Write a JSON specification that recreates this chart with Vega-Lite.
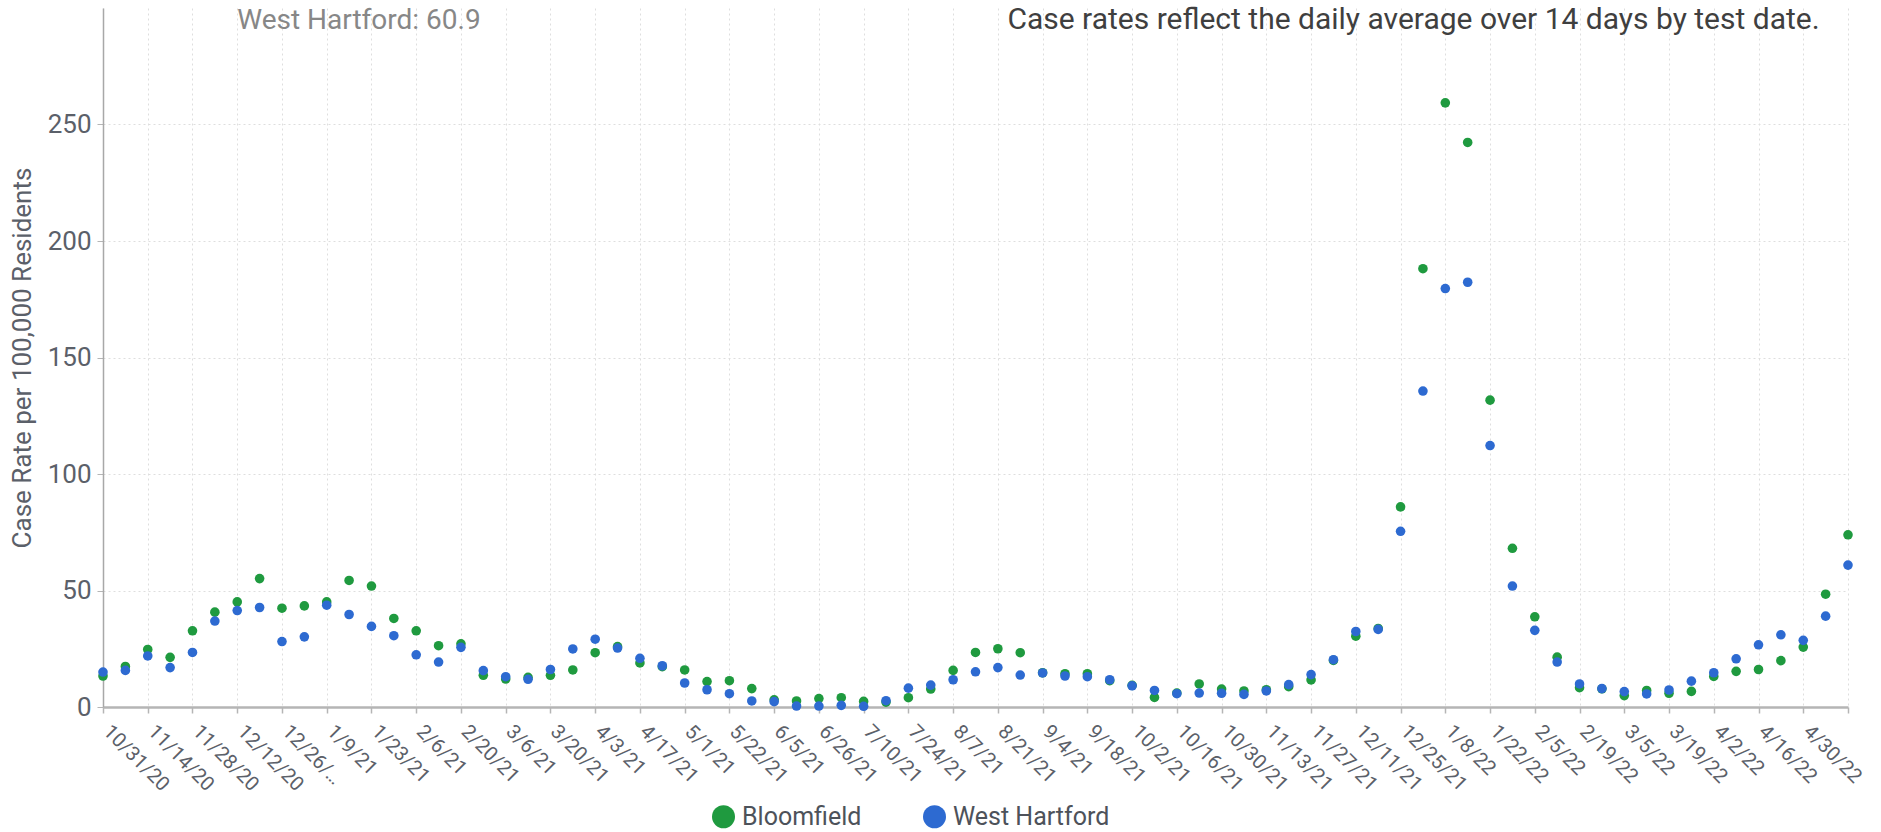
{
  "$schema": "https://vega.github.io/schema/vega-lite/v6.json",
  "autosize": {"type": "none"},
  "padding": {"left": 103, "top": 8, "right": 33, "bottom": 125},
  "width": 1745,
  "height": 699,
  "background": "white",
  "config": {
    "font": "Roboto",
    "view": {"stroke": null},
    "axis": {"labelFont": "Roboto", "titleFont": "Roboto"}
  },
  "datasets": {
    "rates": [
      {"date": "10/31/20", "Bloomfield": 13.3, "West Hartford": 15.0},
      {"date": "11/7/20", "Bloomfield": 17.4, "West Hartford": 15.7},
      {"date": "11/14/20", "Bloomfield": 24.7, "West Hartford": 21.9},
      {"date": "11/21/20", "Bloomfield": 21.3, "West Hartford": 16.9},
      {"date": "11/28/20", "Bloomfield": 32.7, "West Hartford": 23.4},
      {"date": "12/5/20", "Bloomfield": 40.7, "West Hartford": 36.9},
      {"date": "12/12/20", "Bloomfield": 45.1, "West Hartford": 41.4},
      {"date": "12/19/20", "Bloomfield": 55.1, "West Hartford": 42.7},
      {"date": "12/26/20", "Bloomfield": 42.4, "West Hartford": 28.1},
      {"date": "1/2/21", "Bloomfield": 43.4, "West Hartford": 30.1},
      {"date": "1/9/21", "Bloomfield": 45.1, "West Hartford": 43.7},
      {"date": "1/16/21", "Bloomfield": 54.3, "West Hartford": 39.7},
      {"date": "1/23/21", "Bloomfield": 51.9, "West Hartford": 34.6},
      {"date": "1/30/21", "Bloomfield": 38.0, "West Hartford": 30.6},
      {"date": "2/6/21", "Bloomfield": 32.7, "West Hartford": 22.4},
      {"date": "2/13/21", "Bloomfield": 26.3, "West Hartford": 19.3},
      {"date": "2/20/21", "Bloomfield": 27.1, "West Hartford": 25.6},
      {"date": "2/27/21", "Bloomfield": 13.6, "West Hartford": 15.6},
      {"date": "3/6/21", "Bloomfield": 12.0, "West Hartford": 13.0},
      {"date": "3/13/21", "Bloomfield": 12.7, "West Hartford": 11.9},
      {"date": "3/20/21", "Bloomfield": 13.6, "West Hartford": 16.1},
      {"date": "3/27/21", "Bloomfield": 15.9, "West Hartford": 24.9},
      {"date": "4/3/21", "Bloomfield": 23.3, "West Hartford": 29.1},
      {"date": "4/10/21", "Bloomfield": 25.9, "West Hartford": 25.3},
      {"date": "4/17/21", "Bloomfield": 18.9, "West Hartford": 20.9},
      {"date": "4/24/21", "Bloomfield": 17.3, "West Hartford": 17.7},
      {"date": "5/1/21", "Bloomfield": 15.9, "West Hartford": 10.3},
      {"date": "5/8/21", "Bloomfield": 10.9, "West Hartford": 7.4},
      {"date": "5/22/21", "Bloomfield": 11.3, "West Hartford": 5.7},
      {"date": "5/29/21", "Bloomfield": 7.9, "West Hartford": 2.6},
      {"date": "6/5/21", "Bloomfield": 3.1, "West Hartford": 2.3},
      {"date": "6/12/21", "Bloomfield": 2.6, "West Hartford": 0.4},
      {"date": "6/26/21", "Bloomfield": 3.6, "West Hartford": 0.4},
      {"date": "7/3/21", "Bloomfield": 4.0, "West Hartford": 0.7},
      {"date": "7/10/21", "Bloomfield": 2.4, "West Hartford": 0.3},
      {"date": "7/17/21", "Bloomfield": 2.1, "West Hartford": 2.7},
      {"date": "7/24/21", "Bloomfield": 4.0, "West Hartford": 8.1},
      {"date": "7/31/21", "Bloomfield": 7.7, "West Hartford": 9.4},
      {"date": "8/7/21", "Bloomfield": 15.7, "West Hartford": 11.7},
      {"date": "8/14/21", "Bloomfield": 23.4, "West Hartford": 15.1},
      {"date": "8/21/21", "Bloomfield": 25.0, "West Hartford": 16.9},
      {"date": "8/28/21", "Bloomfield": 23.3, "West Hartford": 13.7},
      {"date": "9/4/21", "Bloomfield": 14.7, "West Hartford": 14.6},
      {"date": "9/11/21", "Bloomfield": 14.3, "West Hartford": 13.3},
      {"date": "9/18/21", "Bloomfield": 14.3, "West Hartford": 13.0},
      {"date": "9/25/21", "Bloomfield": 11.3, "West Hartford": 11.7},
      {"date": "10/2/21", "Bloomfield": 9.3, "West Hartford": 9.1},
      {"date": "10/9/21", "Bloomfield": 4.1, "West Hartford": 7.1},
      {"date": "10/16/21", "Bloomfield": 6.0, "West Hartford": 5.7},
      {"date": "10/23/21", "Bloomfield": 9.9, "West Hartford": 6.0},
      {"date": "10/30/21", "Bloomfield": 7.7, "West Hartford": 5.9},
      {"date": "11/6/21", "Bloomfield": 6.9, "West Hartford": 5.4},
      {"date": "11/13/21", "Bloomfield": 7.4, "West Hartford": 6.9},
      {"date": "11/20/21", "Bloomfield": 8.7, "West Hartford": 9.6},
      {"date": "11/27/21", "Bloomfield": 11.6, "West Hartford": 13.9},
      {"date": "12/4/21", "Bloomfield": 20.0, "West Hartford": 20.3},
      {"date": "12/11/21", "Bloomfield": 30.4, "West Hartford": 32.4},
      {"date": "12/18/21", "Bloomfield": 33.7, "West Hartford": 33.3},
      {"date": "12/25/21", "Bloomfield": 85.9, "West Hartford": 75.4},
      {"date": "1/1/22", "Bloomfield": 188.1, "West Hartford": 135.6},
      {"date": "1/8/22", "Bloomfield": 259.3, "West Hartford": 179.6},
      {"date": "1/15/22", "Bloomfield": 242.3, "West Hartford": 182.3},
      {"date": "1/22/22", "Bloomfield": 131.7, "West Hartford": 112.2},
      {"date": "1/29/22", "Bloomfield": 68.1, "West Hartford": 51.9},
      {"date": "2/5/22", "Bloomfield": 38.7, "West Hartford": 32.9},
      {"date": "2/12/22", "Bloomfield": 21.4, "West Hartford": 19.3},
      {"date": "2/19/22", "Bloomfield": 8.3, "West Hartford": 9.9},
      {"date": "2/26/22", "Bloomfield": 7.8, "West Hartford": 7.9},
      {"date": "3/5/22", "Bloomfield": 4.9, "West Hartford": 6.6},
      {"date": "3/12/22", "Bloomfield": 7.1, "West Hartford": 5.6},
      {"date": "3/19/22", "Bloomfield": 5.9, "West Hartford": 7.3},
      {"date": "3/26/22", "Bloomfield": 6.7, "West Hartford": 11.1},
      {"date": "4/2/22", "Bloomfield": 13.1, "West Hartford": 14.7},
      {"date": "4/9/22", "Bloomfield": 15.3, "West Hartford": 20.7},
      {"date": "4/16/22", "Bloomfield": 16.1, "West Hartford": 26.7},
      {"date": "4/23/22", "Bloomfield": 19.9, "West Hartford": 31.0},
      {"date": "4/30/22", "Bloomfield": 25.7, "West Hartford": 28.6},
      {"date": "5/7/22", "Bloomfield": 48.4, "West Hartford": 39.0},
      {"date": "5/14/22", "Bloomfield": 73.9, "West Hartford": 60.9}
    ]
  },
  "layer": [
    {
      "data": {"name": "rates"},
      "transform": [{"fold": ["Bloomfield", "West Hartford"], "as": ["town", "rate"]}],
      "mark": {"type": "point", "filled": true, "shape": "circle", "size": 92, "opacity": 1},
      "encoding": {
        "x": {
          "field": "date",
          "type": "nominal",
          "sort": null,
          "scale": {"type": "point", "padding": 0},
          "axis": {
            "title": null,
            "values": ["10/31/20", "11/14/20", "11/28/20", "12/12/20", "12/26/20", "1/9/21", "1/23/21", "2/6/21", "2/20/21", "3/6/21", "3/20/21", "4/3/21", "4/17/21", "5/1/21", "5/22/21", "6/5/21", "6/26/21", "7/10/21", "7/24/21", "8/7/21", "8/21/21", "9/4/21", "9/18/21", "10/2/21", "10/16/21", "10/30/21", "11/13/21", "11/27/21", "12/11/21", "12/25/21", "1/8/22", "1/22/22", "2/5/22", "2/19/22", "3/5/22", "3/19/22", "4/2/22", "4/16/22", "4/30/22", "5/14/22"],
            "labelExpr": "datum.value == '12/26/20' ? '12/26/…' : (datum.value == '5/14/22' ? '' : datum.value)",
            "labelAngle": 45,
            "labelAlign": "left",
            "labelBaseline": "top",
            "labelFontSize": 20,
            "labelColor": "#5b6069",
            "labelPadding": 8,
            "labelOffset": 10,
            "labelOverlap": false,
            "labelBound": false,
            "tickSize": 6,
            "tickColor": "#b5b5b5",
            "tickWidth": 1.5,
            "domainColor": "#b5b5b5",
            "domainWidth": 2.5,
            "grid": true,
            "gridColor": "#dedede",
            "gridDash": [2, 3],
            "gridWidth": 1
          }
        },
        "y": {
          "field": "rate",
          "type": "quantitative",
          "scale": {"domain": [0, 300], "nice": false},
          "axis": {
            "title": "Case Rate per 100,000 Residents",
            "titleFontSize": 26,
            "titleFontWeight": "normal",
            "titleColor": "#5b6069",
            "titlePadding": 12,
            "values": [0, 50, 100, 150, 200, 250],
            "labelFontSize": 26,
            "labelColor": "#5b6069",
            "labelPadding": 6,
            "tickSize": 6,
            "tickColor": "#b5b5b5",
            "domainColor": "#a8a8a8",
            "domainWidth": 1.5,
            "grid": true,
            "gridColor": "#dedede",
            "gridDash": [2, 3],
            "gridWidth": 1
          }
        },
        "color": {
          "field": "town",
          "type": "nominal",
          "scale": {"domain": ["Bloomfield", "West Hartford"], "range": ["#1f9a3f", "#2d6ad1"]},
          "legend": {
            "title": null,
            "orient": "none",
            "direction": "horizontal",
            "legendX": 608,
            "legendY": 796,
            "padding": 0,
            "symbolType": "circle",
            "symbolSize": 529,
            "symbolStrokeWidth": 0,
            "symbolOpacity": 1,
            "labelFontSize": 25,
            "labelColor": "#4d525a",
            "labelOffset": 6,
            "columnPadding": 60,
            "labelLimit": 300
          }
        }
      }
    },
    {
      "data": {"values": [{}]},
      "mark": {"type": "text", "align": "left", "baseline": "alphabetic", "fontSize": 28, "color": "#878787"},
      "encoding": {
        "x": {"datum": "12/12/20"},
        "y": {"datum": 291.2},
        "text": {"value": "West Hartford: 60.9"}
      }
    },
    {
      "data": {"values": [{}]},
      "mark": {"type": "text", "align": "right", "baseline": "alphabetic", "fontSize": 30, "color": "#3f3f3f", "dx": -6},
      "encoding": {
        "x": {"datum": "5/7/22"},
        "y": {"datum": 291.2},
        "text": {"value": "Case rates reflect the daily average over 14 days by test date."}
      }
    }
  ]
}
